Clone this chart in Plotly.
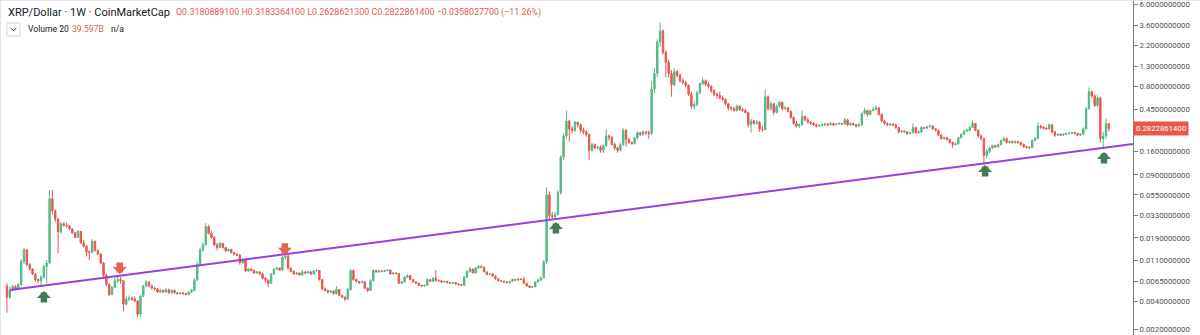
import math
import pandas as pd
import plotly.graph_objects as go

# ---------------- data (XRP/USD weekly) ----------------
start_week = "2013-08-05"
first_open = 0.0058

closes = [
    0.0044, 0.0052, 0.0057, 0.0054, 0.0060, 0.0107, 0.0141, 0.0098, 0.0088, 0.0078,
    0.0068, 0.0066, 0.0072, 0.0094, 0.0102, 0.050, 0.037, 0.030, 0.022, 0.027,
    0.026, 0.0255, 0.0237, 0.0215, 0.0192, 0.0222, 0.0168, 0.0155, 0.0135, 0.0133,
    0.0175, 0.0140, 0.0128, 0.0102, 0.0075, 0.0060, 0.0047, 0.0056, 0.0066, 0.0068,
    0.0066, 0.0037, 0.0042, 0.0043, 0.0042, 0.0040, 0.0029, 0.0045, 0.0058, 0.0064,
    0.0058, 0.0055, 0.0054, 0.0050, 0.0052, 0.0050, 0.0053, 0.0049, 0.0052, 0.0049,
    0.0048, 0.0049, 0.0048, 0.0047, 0.0050, 0.0052, 0.0067, 0.0098, 0.0141, 0.0160,
    0.0251, 0.0213, 0.0192, 0.0160, 0.0150, 0.0166, 0.0150, 0.0138, 0.0143, 0.0132,
    0.0127, 0.0124, 0.0103, 0.0110, 0.0084, 0.0088, 0.0085, 0.0080, 0.0082, 0.0078,
    0.0070, 0.0067, 0.0062, 0.0078, 0.0088, 0.0090, 0.0086, 0.0118, 0.0122, 0.0090,
    0.0083, 0.0078, 0.0080, 0.0076, 0.0082, 0.0080, 0.0082, 0.0078, 0.0084, 0.0085,
    0.0068, 0.0054, 0.0052, 0.0050, 0.0051, 0.0048, 0.0053, 0.0046, 0.0044, 0.0042,
    0.0053, 0.0085, 0.0068, 0.0065, 0.0063, 0.0064, 0.0055, 0.0052, 0.0066, 0.0085,
    0.0082, 0.0084, 0.0083, 0.0085, 0.0086, 0.0078, 0.0080, 0.0079, 0.0062, 0.0064,
    0.0072, 0.0075, 0.0068, 0.0064, 0.0062, 0.0059, 0.0058, 0.0059, 0.0068, 0.0065,
    0.0070, 0.0066, 0.0066, 0.0064, 0.0065, 0.0063, 0.0062, 0.0063, 0.0061, 0.0060,
    0.0059, 0.0072, 0.0083, 0.0088, 0.0080, 0.0090, 0.0094, 0.0092, 0.0082, 0.0077,
    0.0078, 0.0074, 0.0069, 0.0066, 0.0065, 0.0064, 0.0063, 0.0065, 0.0068, 0.0067,
    0.0069, 0.0068, 0.0062, 0.0058, 0.0056, 0.0057, 0.0064, 0.0067, 0.0071, 0.0105,
    0.055, 0.033, 0.032, 0.034, 0.058, 0.140, 0.235, 0.340, 0.280, 0.270,
    0.330, 0.310, 0.270, 0.260, 0.245, 0.165, 0.190, 0.175, 0.178, 0.165,
    0.185, 0.235, 0.225, 0.190, 0.175, 0.165, 0.190, 0.270, 0.215, 0.200,
    0.195, 0.225, 0.255, 0.245, 0.260, 0.255, 0.250, 0.750, 1.10, 2.40,
    3.15, 1.85, 1.45, 1.10, 0.83, 1.15, 1.05, 0.92, 0.88, 0.82,
    0.66, 0.49, 0.51, 0.68, 0.86, 0.92, 0.84, 0.80, 0.72, 0.66,
    0.64, 0.60, 0.58, 0.52, 0.47, 0.46, 0.44, 0.49, 0.45, 0.44,
    0.42, 0.31, 0.34, 0.32, 0.33, 0.28, 0.275, 0.62, 0.46, 0.52,
    0.42, 0.49, 0.54, 0.46, 0.47, 0.43, 0.37, 0.32, 0.30, 0.31,
    0.38, 0.35, 0.33, 0.32, 0.31, 0.30, 0.305, 0.31, 0.315, 0.31,
    0.32, 0.31, 0.315, 0.32, 0.315, 0.35, 0.31, 0.32, 0.31, 0.30,
    0.31, 0.41, 0.44, 0.40, 0.44, 0.45, 0.47, 0.40, 0.34, 0.32,
    0.31, 0.315, 0.31, 0.29, 0.26, 0.265, 0.26, 0.25, 0.255, 0.29,
    0.255, 0.26, 0.29, 0.285, 0.295, 0.30, 0.28, 0.27, 0.24, 0.22,
    0.225, 0.215, 0.20, 0.19, 0.193, 0.225, 0.245, 0.265, 0.27, 0.29,
    0.32, 0.27, 0.235, 0.22, 0.145, 0.16, 0.175, 0.185, 0.18, 0.19,
    0.21, 0.22, 0.20, 0.205, 0.20, 0.205, 0.20, 0.19, 0.18, 0.178,
    0.176, 0.21, 0.22, 0.30, 0.29, 0.285, 0.28, 0.31, 0.26, 0.24,
    0.245, 0.24, 0.245, 0.25, 0.252, 0.255, 0.25, 0.24, 0.245, 0.28,
    0.46, 0.70, 0.63, 0.50, 0.60, 0.22, 0.235, 0.3180889100, 0.2822861400,
]

highs = [
    0.0062, 0.0057, 0.0060, 0.0059, 0.0062, 0.0112, 0.0148, 0.0145, 0.0102, 0.0090,
    0.0080, 0.0070, 0.0076, 0.0098, 0.0110, 0.062, 0.062, 0.038, 0.031, 0.028,
    0.028, 0.028, 0.026, 0.024, 0.022, 0.023, 0.0225, 0.018, 0.0158, 0.0140,
    0.0185, 0.0178, 0.0142, 0.0130, 0.0105, 0.0078, 0.0062, 0.0058, 0.0072, 0.0074,
    0.0073, 0.0067, 0.0045, 0.0046, 0.0045, 0.0045, 0.0041, 0.0047, 0.0060, 0.0067,
    0.0065, 0.0060, 0.0057, 0.0055, 0.0054, 0.0053, 0.0055, 0.0054, 0.0053, 0.0053,
    0.0050, 0.0050, 0.0050, 0.0049, 0.0051, 0.0054, 0.0070, 0.0105, 0.0150, 0.0170,
    0.0273, 0.0260, 0.0225, 0.0200, 0.0168, 0.0172, 0.0168, 0.0152, 0.0146, 0.0145,
    0.0134, 0.0130, 0.0128, 0.0114, 0.0112, 0.0090, 0.0090, 0.0087, 0.0084, 0.0083,
    0.0080, 0.0072, 0.0068, 0.0080, 0.0090, 0.0093, 0.0092, 0.0122, 0.0127, 0.0124,
    0.0092, 0.0085, 0.0082, 0.0081, 0.0086, 0.0084, 0.0084, 0.0083, 0.0086, 0.0088,
    0.0086, 0.0069, 0.0056, 0.0053, 0.0053, 0.0052, 0.0058, 0.0054, 0.0047, 0.0045,
    0.0055, 0.0088, 0.0087, 0.0070, 0.0066, 0.0066, 0.0065, 0.0056, 0.0068, 0.0088,
    0.0087, 0.0086, 0.0085, 0.0087, 0.0088, 0.0087, 0.0082, 0.0081, 0.0080, 0.0066,
    0.0074, 0.0077, 0.0076, 0.0069, 0.0065, 0.0063, 0.0060, 0.0060, 0.0070, 0.0069,
    0.0072, 0.0086, 0.0068, 0.0067, 0.0066, 0.0066, 0.0064, 0.0064, 0.0064, 0.0062,
    0.0061, 0.0074, 0.0085, 0.0093, 0.0089, 0.0093, 0.0097, 0.0096, 0.0093, 0.0083,
    0.0080, 0.0079, 0.0075, 0.0070, 0.0067, 0.0066, 0.0065, 0.0066, 0.0070, 0.0069,
    0.0071, 0.0070, 0.0073, 0.0063, 0.0059, 0.0058, 0.0065, 0.0069, 0.0073, 0.0110,
    0.066, 0.060, 0.036, 0.036, 0.062, 0.145, 0.25, 0.44, 0.35, 0.30,
    0.34, 0.335, 0.32, 0.29, 0.27, 0.25, 0.20, 0.195, 0.185, 0.185,
    0.19, 0.28, 0.245, 0.235, 0.20, 0.18, 0.20, 0.285, 0.28, 0.225,
    0.205, 0.23, 0.265, 0.26, 0.27, 0.265, 0.27, 0.90, 1.25, 2.55,
    3.84, 3.25, 1.95, 1.55, 1.20, 1.25, 1.20, 1.10, 0.98, 0.92,
    0.84, 0.70, 0.55, 0.72, 0.88, 1.00, 0.95, 0.90, 0.82, 0.74,
    0.68, 0.70, 0.64, 0.59, 0.53, 0.49, 0.48, 0.51, 0.50, 0.47,
    0.46, 0.43, 0.36, 0.35, 0.35, 0.34, 0.30, 0.74, 0.64, 0.55,
    0.53, 0.51, 0.56, 0.55, 0.49, 0.48, 0.44, 0.38, 0.34, 0.32,
    0.44, 0.39, 0.37, 0.34, 0.33, 0.32, 0.315, 0.32, 0.325, 0.32,
    0.33, 0.325, 0.32, 0.33, 0.325, 0.37, 0.36, 0.33, 0.325, 0.315,
    0.32, 0.42, 0.47, 0.45, 0.45, 0.48, 0.50, 0.48, 0.41, 0.35,
    0.33, 0.32, 0.32, 0.315, 0.295, 0.27, 0.27, 0.265, 0.26, 0.32,
    0.295, 0.27, 0.30, 0.295, 0.30, 0.31, 0.305, 0.285, 0.275, 0.245,
    0.23, 0.23, 0.22, 0.205, 0.20, 0.23, 0.25, 0.275, 0.28, 0.30,
    0.345, 0.325, 0.275, 0.245, 0.225, 0.17, 0.18, 0.19, 0.19, 0.195,
    0.215, 0.23, 0.225, 0.21, 0.21, 0.21, 0.21, 0.205, 0.195, 0.185,
    0.182, 0.215, 0.23, 0.33, 0.31, 0.30, 0.29, 0.32, 0.315, 0.265,
    0.25, 0.25, 0.25, 0.255, 0.26, 0.26, 0.26, 0.255, 0.25, 0.29,
    0.48, 0.78, 0.72, 0.66, 0.65, 0.62, 0.26, 0.36, 0.3183364100,
]

lows = [
    0.0030, 0.0042, 0.0051, 0.0052, 0.0053, 0.0058, 0.0100, 0.0095, 0.0084, 0.0076,
    0.0064, 0.0062, 0.0058, 0.0070, 0.0062, 0.0100, 0.034, 0.028, 0.013, 0.021,
    0.025, 0.0245, 0.023, 0.021, 0.019, 0.019, 0.0165, 0.015, 0.0120, 0.0110,
    0.0130, 0.0135, 0.0125, 0.0100, 0.0072, 0.0057, 0.0045, 0.0046, 0.0055, 0.0062,
    0.0061, 0.0031, 0.0036, 0.0040, 0.0040, 0.0039, 0.0027, 0.0027, 0.0044, 0.0056,
    0.0056, 0.0053, 0.0052, 0.0049, 0.0049, 0.0049, 0.0049, 0.0048, 0.0048, 0.0048,
    0.0047, 0.0047, 0.0047, 0.0046, 0.0046, 0.0049, 0.0051, 0.0066, 0.0095, 0.0135,
    0.0158, 0.0205, 0.0185, 0.0155, 0.0140, 0.0148, 0.0147, 0.0135, 0.0135, 0.0130,
    0.0124, 0.0121, 0.0098, 0.0100, 0.0082, 0.0082, 0.0083, 0.0078, 0.0079, 0.0076,
    0.0068, 0.0063, 0.0056, 0.0061, 0.0076, 0.0085, 0.0084, 0.0085, 0.0112, 0.0088,
    0.0081, 0.0076, 0.0077, 0.0075, 0.0075, 0.0078, 0.0079, 0.0076, 0.0077, 0.0082,
    0.0066, 0.0052, 0.0051, 0.0048, 0.0049, 0.0047, 0.0047, 0.0045, 0.0043, 0.0040,
    0.0041, 0.0052, 0.0066, 0.0063, 0.0061, 0.0062, 0.0054, 0.0050, 0.0051, 0.0065,
    0.0080, 0.0081, 0.0081, 0.0082, 0.0083, 0.0077, 0.0077, 0.0077, 0.0061, 0.0061,
    0.0063, 0.0071, 0.0067, 0.0063, 0.0061, 0.0058, 0.0057, 0.0057, 0.0058, 0.0064,
    0.0064, 0.0065, 0.0064, 0.0063, 0.0063, 0.0062, 0.0061, 0.0061, 0.0060, 0.0059,
    0.0058, 0.0058, 0.0071, 0.0081, 0.0079, 0.0079, 0.0088, 0.0090, 0.0081, 0.0076,
    0.0076, 0.0073, 0.0068, 0.0065, 0.0064, 0.0063, 0.0062, 0.0062, 0.0064, 0.0066,
    0.0066, 0.0067, 0.0061, 0.0057, 0.0055, 0.0055, 0.0056, 0.0063, 0.0066, 0.0070,
    0.0100, 0.030, 0.030, 0.030, 0.033, 0.055, 0.13, 0.22, 0.205, 0.25,
    0.26, 0.29, 0.25, 0.245, 0.23, 0.13, 0.16, 0.17, 0.168, 0.155,
    0.155, 0.18, 0.21, 0.185, 0.165, 0.155, 0.16, 0.185, 0.18, 0.195,
    0.19, 0.19, 0.215, 0.235, 0.235, 0.24, 0.22, 0.24, 0.68, 1.00,
    2.15, 1.75, 1.00, 1.00, 0.62, 0.80, 1.00, 0.88, 0.84, 0.78,
    0.63, 0.46, 0.45, 0.49, 0.66, 0.82, 0.80, 0.76, 0.68, 0.63,
    0.59, 0.58, 0.56, 0.50, 0.44, 0.44, 0.43, 0.43, 0.44, 0.43,
    0.41, 0.29, 0.255, 0.31, 0.31, 0.26, 0.26, 0.27, 0.44, 0.44,
    0.39, 0.41, 0.47, 0.44, 0.45, 0.42, 0.36, 0.31, 0.29, 0.285,
    0.30, 0.34, 0.32, 0.31, 0.30, 0.29, 0.295, 0.30, 0.30, 0.30,
    0.305, 0.30, 0.305, 0.31, 0.31, 0.31, 0.30, 0.305, 0.305, 0.29,
    0.295, 0.30, 0.40, 0.38, 0.39, 0.43, 0.44, 0.39, 0.33, 0.31,
    0.30, 0.30, 0.30, 0.28, 0.25, 0.255, 0.255, 0.24, 0.245, 0.25,
    0.25, 0.25, 0.255, 0.28, 0.28, 0.29, 0.275, 0.265, 0.235, 0.215,
    0.215, 0.21, 0.195, 0.175, 0.185, 0.19, 0.22, 0.24, 0.26, 0.265,
    0.285, 0.265, 0.225, 0.21, 0.115, 0.135, 0.155, 0.17, 0.175, 0.175,
    0.185, 0.205, 0.195, 0.195, 0.195, 0.195, 0.195, 0.185, 0.175, 0.172,
    0.172, 0.175, 0.205, 0.215, 0.28, 0.275, 0.27, 0.275, 0.25, 0.23,
    0.235, 0.235, 0.235, 0.24, 0.245, 0.245, 0.245, 0.235, 0.235, 0.24,
    0.275, 0.45, 0.60, 0.48, 0.48, 0.20, 0.17, 0.22, 0.2628621300,
]

assert len(closes) == len(highs) == len(lows)

# weekly candles: each week opens at the previous week's close
opens = [first_open] + closes[:-1]
weeks = pd.date_range(start_week, periods=len(closes), freq="7D")

# y-axis labels of the price scale
tick_vals = [6.0, 3.6, 2.2, 1.3, 0.8, 0.45, 0.16, 0.09, 0.055, 0.033,
             0.019, 0.011, 0.0065, 0.004, 0.002]
tick_text = [f"{v:.10f}" for v in tick_vals]

# support trend line (two anchor points)
trend_dates = ["2013-08-12", "2021-03-11 12:00"]
trend_prices = [0.005253, 0.1928]

# annotation arrows (tip positions)
up_arrow_dates = ["2013-11-04", "2017-04-19", "2020-03-12", "2020-12-30"]
up_arrow_prices = [0.00512, 0.0281, 0.1148, 0.158]
down_arrow_dates = ["2014-05-10", "2015-06-21"]
down_arrow_prices = [0.0078, 0.0125]

title_text = "XRP/Dollar · 1W · CoinMarketCap"
ohlc_text = "O0.3180889100 H0.3183364100 L0.2628621300 C0.2822861400 −0.0358027700 (−11.26%)"
volume_label = "Volume 20"
volume_value = "39.597B"
volume_extra = "n/a"
last_price = closes[-1]

# ---------------- styling ----------------
W, H = 1200, 335
PLOT_W = 1133
UP = "#53b987"
DOWN = "#e8574c"
TEXT = "#131722"
RED_TXT = "#e25a50"
FONT = "Roboto"

fig = go.Figure()

fig.add_trace(go.Candlestick(
    x=weeks, open=opens, high=highs, low=lows, close=closes,
    increasing=dict(line=dict(color=UP, width=1), fillcolor=UP),
    decreasing=dict(line=dict(color=DOWN, width=1), fillcolor=DOWN),
    whiskerwidth=0, hoverinfo="skip", showlegend=False,
))

fig.add_trace(go.Scatter(
    x=trend_dates, y=trend_prices, mode="lines",
    line=dict(color="#9a3ee0", width=2), hoverinfo="skip", showlegend=False,
))

x_left = pd.Timestamp(start_week) - pd.Timedelta(days=17.2)
x_right = pd.Timestamp(start_week) + pd.Timedelta(days=2775.5)

shapes = [
    # last price line
    dict(type="line", xref="paper", x0=0, x1=1, yref="y",
         y0=math.log10(last_price), y1=math.log10(last_price),
         line=dict(color="rgba(232,87,76,0.45)", width=1)),
    # top and left panel borders
    dict(type="line", xref="paper", x0=0, x1=W / PLOT_W, yref="paper", y0=0.999, y1=0.999,
         line=dict(color="#e0e3eb", width=1)),
    dict(type="line", xref="paper", x0=0.0004, x1=0.0004, yref="paper", y0=0, y1=1,
         line=dict(color="#e0e3eb", width=1)),
    # collapse button box of the volume row
    dict(type="rect", xref="paper", yref="paper",
         x0=7 / PLOT_W, x1=20 / PLOT_W, y0=1 - 36 / H, y1=1 - 23 / H,
         line=dict(color="#d1d4dc", width=1), fillcolor="white"),
    dict(type="path", xref="paper", yref="paper", xsizemode="pixel", ysizemode="pixel",
         xanchor=13.5 / PLOT_W, yanchor=1 - 29.5 / H,
         path="M -2.5 1.2 L 0 -1.3 L 2.5 1.2",
         line=dict(color="#131722", width=1)),
]

annotations = [
    dict(text=title_text, xref="paper", yref="paper", x=6 / PLOT_W, y=1 - 12.5 / H,
         xanchor="left", yanchor="middle", showarrow=False,
         font=dict(family=FONT, size=11, color=TEXT)),
    dict(text=ohlc_text, xref="paper", yref="paper", x=174 / PLOT_W, y=1 - 13 / H,
         xanchor="left", yanchor="middle", showarrow=False,
         font=dict(family=FONT, size=8.9, color=RED_TXT)),
    dict(text=volume_label, xref="paper", yref="paper", x=26 / PLOT_W, y=1 - 29.5 / H,
         xanchor="left", yanchor="middle", showarrow=False,
         font=dict(family=FONT, size=8.6, color=TEXT)),
    dict(text=volume_value, xref="paper", yref="paper", x=70 / PLOT_W, y=1 - 29.5 / H,
         xanchor="left", yanchor="middle", showarrow=False,
         font=dict(family=FONT, size=8.6, color=RED_TXT)),
    dict(text=volume_extra, xref="paper", yref="paper", x=109 / PLOT_W, y=1 - 29.5 / H,
         xanchor="left", yanchor="middle", showarrow=False,
         font=dict(family=FONT, size=8.6, color=TEXT)),
    # last price label on the scale
    dict(text=f"{last_price:.10f}", xref="paper", yref="y", x=1.0, y=math.log10(last_price),
         xanchor="left", yanchor="middle", showarrow=False, bgcolor=DOWN,
         borderpad=2, font=dict(family=FONT, size=7.8, color="white")),
]

for d, p in zip(up_arrow_dates, up_arrow_prices):
    annotations.append(dict(x=d, y=math.log10(p), xref="x", yref="y", text="",
                            showarrow=True, ax=0, ay=13, arrowhead=1, arrowsize=0.36,
                            arrowwidth=6.5, arrowcolor="#437d57", standoff=0))
for d, p in zip(down_arrow_dates, down_arrow_prices):
    annotations.append(dict(x=d, y=math.log10(p), xref="x", yref="y", text="",
                            showarrow=True, ax=0, ay=-13, arrowhead=1, arrowsize=0.36,
                            arrowwidth=6.5, arrowcolor="#e0654a", standoff=0))

fig.update_layout(
    width=W, height=H, autosize=False,
    margin=dict(l=0, r=W - PLOT_W, t=0, b=0, pad=0),
    paper_bgcolor="white", plot_bgcolor="white",
    showlegend=False, hovermode=False,
    shapes=shapes, annotations=annotations,
    xaxis=dict(type="date", range=[x_left, x_right], visible=False,
               rangeslider=dict(visible=False), fixedrange=True),
    yaxis=dict(type="log", side="right", range=[-2.762, 0.8285],
               tickvals=tick_vals, ticktext=tick_text,
               showgrid=False, zeroline=False, showline=True,
               linecolor="#7d808a", linewidth=1,
               ticks="outside", ticklen=4, tickcolor="#7d808a",
               tickfont=dict(family=FONT, size=7.8, color="#4a4d57"),
               fixedrange=True),
)

fig.write_html("out.html", config={"displayModeBar": False})
